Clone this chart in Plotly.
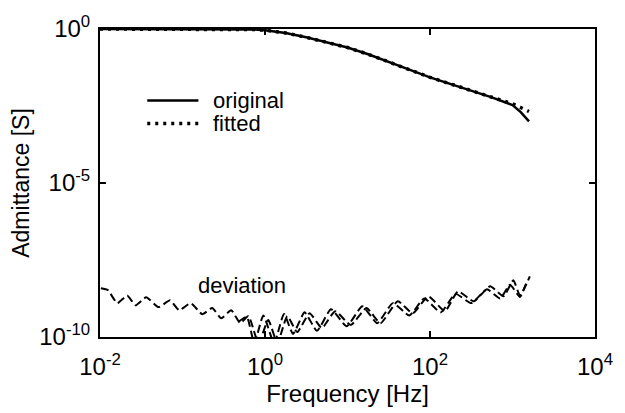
import plotly.graph_objects as go

# ---- data ----
freq_resp = [0.01, 0.1, 0.316, 0.75, 1.0, 1.78, 3.16, 5.62, 10, 17.8, 31.6, 56.2, 100,
             178, 316, 562, 1000, 1259, 1585]
log_original = [0, 0, -0.005, -0.02, -0.04, -0.13, -0.27, -0.44, -0.60, -0.82, -1.08, -1.32, -1.57,
                -1.79, -2.0, -2.22, -2.47, -2.70, -3.0]
log_fitted = [0, 0, -0.005, -0.02, -0.04, -0.13, -0.27, -0.44, -0.60, -0.82, -1.08, -1.32, -1.57,
              -1.79, -2.0, -2.22, -2.43, -2.55, -2.68]

log_freq_devA = [-1.99, -1.905, -1.79, -1.67, -1.57, -1.44, -1.29, -1.15, -1.04, -0.90,
                 -0.76, -0.64, -0.53, -0.41, -0.30, -0.20, -0.08, 0.04, 0.15, 0.27,
                 0.39, 0.54, 0.69, 0.85, 1.04, 1.23, 1.40, 1.61, 1.79, 1.98,
                 2.18, 2.34, 2.53, 2.73, 2.89, 3.01, 3.09, 3.21]
log_devA = [-8.42, -8.48, -8.90, -8.65, -8.97, -8.71, -9.03, -8.81, -9.13, -8.90,
            -9.26, -9.06, -9.39, -9.13, -9.55, -9.32, -10.2, -9.45, -10.2, -9.32,
            -9.84, -9.23, -9.71, -9.16, -9.61, -9.06, -9.55, -8.84, -9.23, -8.68,
            -9.16, -8.52, -8.84, -8.35, -8.68, -8.16, -8.65, -8.03]

log_freq_devB = [-0.32, -0.22, -0.13, -0.02, 0.11, 0.23, 0.34, 0.48, 0.63, 0.80,
                 0.99, 1.18, 1.36, 1.55, 1.75, 1.93, 2.13, 2.31, 2.50, 2.69,
                 2.85, 2.97, 3.09, 3.18]
log_devB = [-9.50, -9.35, -10.2, -9.30, -10.2, -9.25, -9.90, -9.20, -9.80, -9.10,
            -9.65, -9.00, -9.55, -8.90, -9.30, -8.75, -9.20, -8.60, -8.90, -8.45,
            -8.75, -8.30, -8.70, -8.15]

x_tick_vals = [0.01, 1, 100, 10000]
x_tick_text = ["10<sup>-2</sup>", "10<sup>0</sup>", "10<sup>2</sup>", "10<sup>4</sup>"]
y_tick_vals = [1e-10, 1e-5, 1]
y_tick_text = ["10<sup>-10</sup>", "10<sup>-5</sup>", "10<sup>0</sup>"]

FONT = "Liberation Sans, Arial, sans-serif"
FS = 22

fig = go.Figure()
fig.add_trace(go.Scatter(x=freq_resp, y=[10 ** v for v in log_original], mode="lines",
                         name="original", showlegend=False,
                         line=dict(color="black", width=2.5)))
fig.add_trace(go.Scatter(x=freq_resp, y=[10 ** v for v in log_fitted], mode="lines",
                         name="fitted", showlegend=False,
                         line=dict(color="black", width=3.5, dash="3px,5px")))
fig.add_trace(go.Scatter(x=[10 ** v for v in log_freq_devA], y=[10 ** v for v in log_devA],
                         mode="lines", showlegend=False,
                         line=dict(color="black", width=2, dash="8px,4px",
                                   shape="spline", smoothing=0.5)))
fig.add_trace(go.Scatter(x=[10 ** v for v in log_freq_devB], y=[10 ** v for v in log_devB],
                         mode="lines", showlegend=False,
                         line=dict(color="black", width=2, dash="8px,4px",
                                   shape="spline", smoothing=0.5)))

fig.add_annotation(x=-0.28, y=-8.32, xref="x", yref="y", text="deviation", showarrow=False,
                   font=dict(family=FONT, size=FS, color="black"))

# legend drawn by hand (sample lines + labels), in paper coordinates
PL, PW, PB, PH = 100, 503, 338, 310
def px(x):
    return (x - PL) / PW
def py(y):
    return (PB - y) / PH

legend_items = [("original", "solid", 2.5, 100), ("fitted", "3px,5px", 3.5, 123)]
for label, dash, w, yy in legend_items:
    fig.add_shape(type="line", xref="paper", yref="paper",
                  x0=px(148), x1=px(200), y0=py(yy), y1=py(yy),
                  line=dict(color="black", width=w, dash=dash))
    fig.add_annotation(xref="paper", yref="paper", x=px(213), y=py(yy), text=label,
                       xanchor="left", yanchor="middle", showarrow=False,
                       font=dict(family=FONT, size=FS, color="black"))

axis_common = dict(showline=True, linecolor="black", linewidth=2, mirror="ticks",
                   ticks="inside", ticklen=6, tickcolor="black", tickwidth=1.5,
                   showgrid=False, zeroline=False,
                   tickfont=dict(family=FONT, size=24, color="black"))

fig.update_xaxes(type="log", range=[-2, 4], tickvals=x_tick_vals, ticktext=x_tick_text,
                 ticklabelstandoff=7,
                 title=dict(text="Frequency [Hz]", standoff=4,
                            font=dict(family=FONT, size=24, color="black")),
                 **axis_common)
fig.update_yaxes(type="log", range=[-10, 0], tickvals=y_tick_vals, ticktext=y_tick_text,
                 ticklabelstandoff=3,
                 title=dict(text="Admittance [S]", standoff=3,
                            font=dict(family=FONT, size=23, color="black")),
                 **axis_common)

fig.update_layout(
    width=625, height=413,
    margin=dict(l=100, r=22, t=28, b=75),
    paper_bgcolor="white", plot_bgcolor="white",
    font=dict(family=FONT, size=FS, color="black"),
    showlegend=False,
)

fig.write_html("out.html")
